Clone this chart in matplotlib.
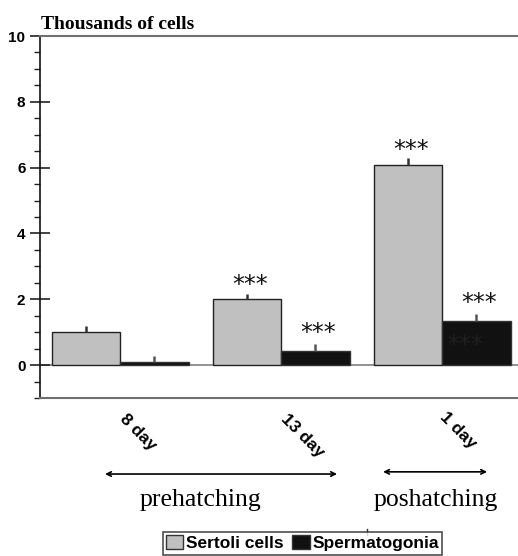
import matplotlib
matplotlib.use("Agg")
import matplotlib.pyplot as plt
import numpy as np
from matplotlib.ticker import MultipleLocator
import matplotlib.transforms as mtrans
from matplotlib.patches import Patch
from matplotlib.lines import Line2D

categories = ["8 day", "13 day", "1 day"]
sertoli = [1.0, 2.0, 6.08]
sertoli_err = [0.18, 0.15, 0.2]
spermato = [0.08, 0.43, 1.34]
spermato_err = [0.19, 0.2, 0.2]
sertoli_sig = ["", "***", "***"]
spermato_sig = ["", "***", "***"]
periods = ["prehatching", "poshatching"]
series_names = ["Sertoli cells", "Spermatogonia"]
yticks = [0, 2, 4, 6, 8, 10]

W, H = 518, 556
fig = plt.figure(figsize=(W / 100, H / 100), dpi=100)
ax = fig.add_axes([40 / W, (H - 398) / H, (W - 40) / W, (398 - 36) / H])

x = np.arange(len(categories))
bw = 0.4255
gray = "#c0c0c0"
dark = "#111111"
ax.bar(x - bw / 2, sertoli, bw, color=gray, edgecolor="#222222", linewidth=1, zorder=2)
ax.bar(x + bw / 2, spermato, bw, color=dark, edgecolor="#333333", linewidth=1, zorder=2)
ax.errorbar(x - bw / 2, sertoli, yerr=[np.zeros(3), sertoli_err], fmt="none",
            ecolor="#333333", elinewidth=1.8, capsize=0, zorder=3)
ax.errorbar(x + bw / 2, spermato, yerr=[np.zeros(3), spermato_err], fmt="none",
            ecolor="#555555", elinewidth=1.8, capsize=0, zorder=3)

star_font = dict(family="DejaVu Sans", fontsize=17, ha="center", va="center")
for i in range(len(categories)):
    if sertoli_sig[i]:
        ax.text(x[i] - bw / 2 + 0.02, sertoli[i] + sertoli_err[i] + 0.27, sertoli_sig[i],
                color="#111111", **star_font)
    if spermato_sig[i]:
        ax.text(x[i] + bw / 2 + 0.02, spermato[i] + spermato_err[i] + 0.36, spermato_sig[i],
                color="#111111", **star_font)
# faint duplicate stars inside the last dark bar
ax.text(x[2] + bw / 2 - 0.07, spermato[2] - 0.72, spermato_sig[2], color="#202020",
        zorder=4, **star_font)

ax.axhline(0, color="#808080", linewidth=1.2, zorder=1)

ax.set_xlim(-0.497, 2.472)
ax.set_ylim(-1, 10)
ax.yaxis.set_minor_locator(MultipleLocator(0.5))
ax.set_yticks(yticks)
ax.set_yticklabels([str(v) for v in yticks], fontsize=11, fontweight="bold",
                   family="Liberation Sans")
ax.tick_params(axis="y", which="major", direction="inout", length=15, width=1.2, pad=3,
               color="#222222")
ax.tick_params(axis="y", which="minor", direction="out", length=4, width=1, color="#222222")
ax.set_xticks([])

for s in ["top", "bottom"]:
    ax.spines[s].set_color("#707070")
    ax.spines[s].set_linewidth(1.5)
ax.spines["right"].set_visible(False)
ax.spines["left"].set_color("#111111")
ax.spines["left"].set_linewidth(1.2)

trans = mtrans.blended_transform_factory(ax.transData, ax.transAxes)
label_offsets = [(0.11, -0.095), (0.13, -0.105), (0.10, -0.09)]
for i, c in enumerate(categories):
    dx, dy = label_offsets[i]
    ax.text(x[i] + dx, dy, c, transform=trans, rotation=-45, ha="center", va="center",
            fontsize=12.5, fontweight="bold", family="Liberation Sans", clip_on=False)

ax.annotate("", xy=(-0.093, -0.21), xytext=(1.348, -0.21), xycoords=trans, textcoords=trans,
            arrowprops=dict(arrowstyle="<->", color="black", lw=1.2, shrinkA=0, shrinkB=0,
                            mutation_scale=8), annotation_clip=False)
ax.annotate("", xy=(1.634, -0.204), xytext=(2.28, -0.204), xycoords=trans, textcoords=trans,
            arrowprops=dict(arrowstyle="<->", color="black", lw=1.2, shrinkA=0, shrinkB=0,
                            mutation_scale=8), annotation_clip=False)
ax.text(0.503, -0.282, periods[0], transform=trans, ha="center", va="center", fontsize=18.5,
        family="Liberation Serif", clip_on=False)
ax.text(1.963, -0.282, periods[1], transform=trans, ha="center", va="center", fontsize=18.5,
        family="Liberation Serif", clip_on=False)

ax.text(0.002, 1.019, "Thousands of cells", transform=ax.transAxes, ha="left", va="baseline",
        fontsize=14, fontweight="bold", family="Liberation Serif")

handles = [Patch(facecolor=gray, edgecolor="#333333", linewidth=1),
           Patch(facecolor=dark, edgecolor="#333333", linewidth=1)]
leg = fig.legend(handles, series_names, loc="upper center",
                 bbox_to_anchor=(302.5 / W, 1 - 532 / H),
                 ncol=2, frameon=True, fancybox=False, edgecolor="#222222",
                 prop=dict(family="Liberation Sans", weight="bold", size=12.5),
                 handlelength=1.0, handleheight=0.8, handletextpad=0.15, columnspacing=0.5,
                 borderpad=0.2, borderaxespad=0)
leg.get_frame().set_linewidth(1.2)

fig.add_artist(Line2D([367 / W, 367 / W], [1 - 529 / H, 1 - 535 / H],
                      transform=fig.transFigure, color="#333333", lw=1))

fig.savefig("out.png", dpi=100)
